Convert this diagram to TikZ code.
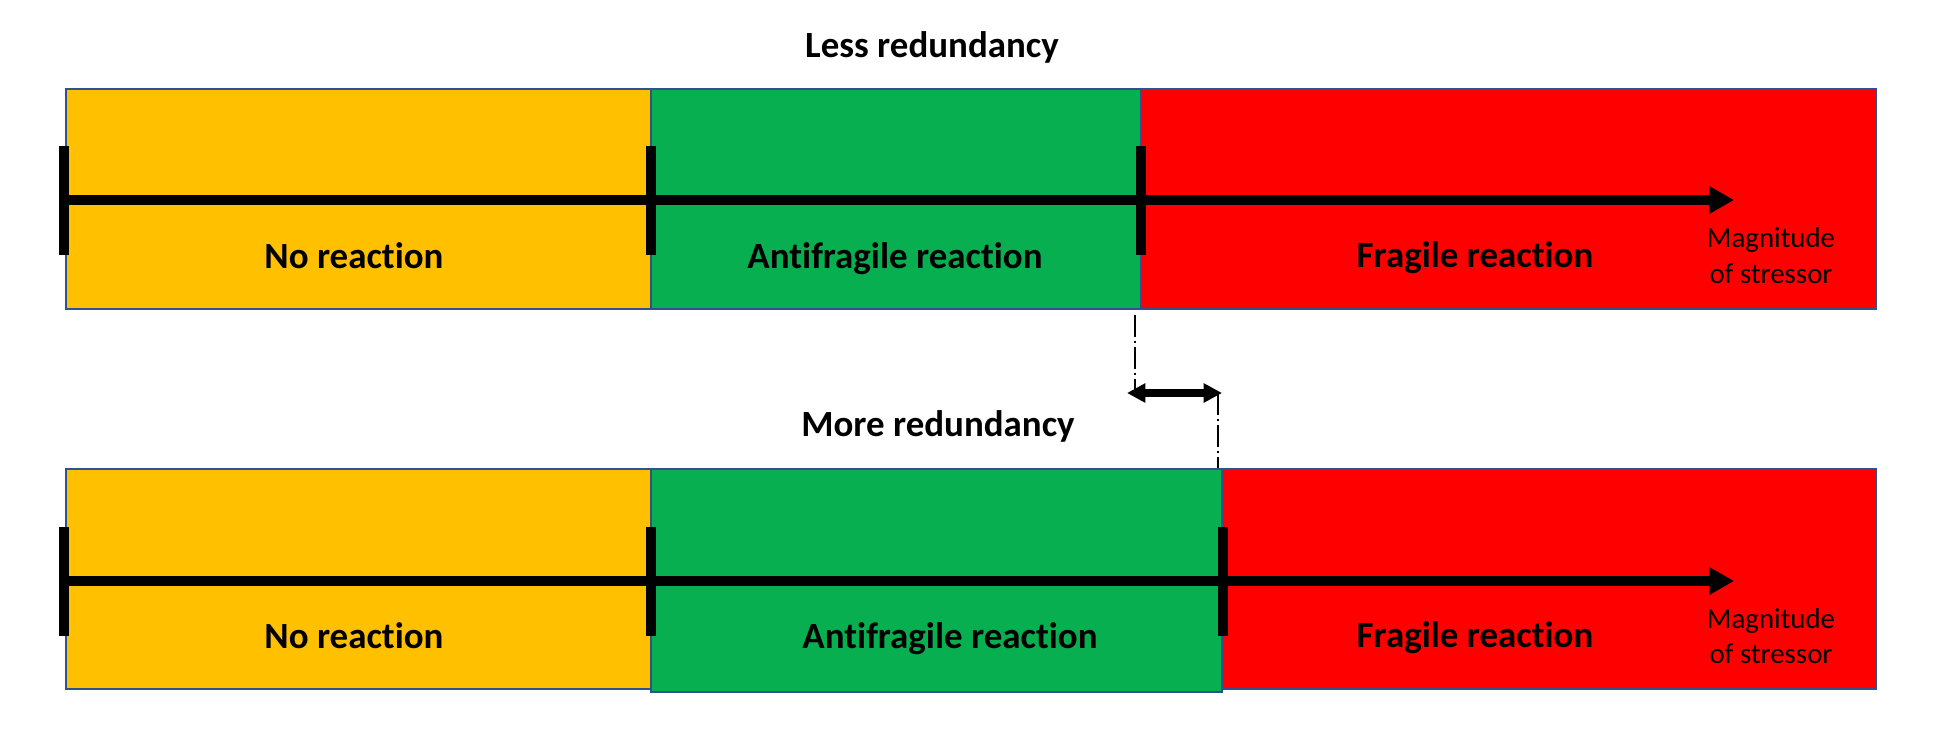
\documentclass[tikz,border=0pt]{standalone}
\usepackage{fontspec}
\setmainfont{Carlito}[Ligatures=NoCommon]
\usetikzlibrary{arrows.meta}
\definecolor{yel}{HTML}{FFC000}
\definecolor{grn}{HTML}{07AF50}
\definecolor{rd}{HTML}{FF0000}
\definecolor{edge}{HTML}{2F528F}
\begin{document}
\begin{tikzpicture}[x=0.01cm,y=-0.01cm,
  seg/.style={draw=edge, line width=0.45pt},
  axisline/.style={line width=2.6pt, -{Triangle[length=7pt,width=7.4pt]}},
  tickline/.style={line width=2.6pt},
  lbl/.style={font=\bfseries\fontsize{10.5}{12}\selectfont, anchor=base, inner sep=0pt},
  ttl/.style={font=\bfseries\fontsize{10.5}{12}\selectfont, anchor=base, inner sep=0pt},
  mag/.style={font=\fontsize{8.2}{10}\selectfont, anchor=base, inner sep=0pt},
  guide/.style={line width=0.45pt, dash pattern=on 6.3pt off 1.1pt on 0.6pt off 1.1pt},
  shiftarrow/.style={line width=2pt, {Triangle[length=5.2pt,width=5.2pt]}-{Triangle[length=5.2pt,width=5.2pt]}}
]
\useasboundingbox (0,0) rectangle (1940,748);

% ---------- top bar (less redundancy) ----------
\filldraw[seg, fill=yel] (66,89) rectangle (651,309);
\filldraw[seg, fill=grn] (651,89) rectangle (1141,309);
\filldraw[seg, fill=rd]  (1141,89) rectangle (1876,309);

\coordinate (TA0) at (64,200);
\coordinate (TAend) at (1734,200);
\draw[axisline] (TA0) -- (TAend);
\coordinate (T1a) at (64,146);   \coordinate (T1b) at (64,255);
\coordinate (T2a) at (651,146);  \coordinate (T2b) at (651,255);
\coordinate (T3a) at (1141,146); \coordinate (T3b) at (1141,255);
\draw[tickline] (T1a) -- (T1b);
\draw[tickline] (T2a) -- (T2b);
\draw[tickline] (T3a) -- (T3b);

\node[ttl] (less) at (932,57) {Less redundancy};
\node[lbl] (tno) at (354,268) {No reaction};
\node[lbl] (tanti) at (895,268) {Antifragile reaction};
\node[lbl] (tfrag) at (1475,267) {Fragile reaction};
\node[mag] (tmag1) at (1771,247) {Magnitude};
\node[mag] (tmag2) at (1771,283) {of stressor};

% ---------- bottom bar (more redundancy) ----------
\filldraw[seg, fill=yel] (66,469) rectangle (651,689);
\filldraw[seg, fill=grn] (651,469) rectangle (1222,692);
\filldraw[seg, fill=rd]  (1222,469) rectangle (1876,689);

\coordinate (BA0) at (64,581);
\coordinate (BAend) at (1734,581);
\draw[axisline] (BA0) -- (BAend);
\coordinate (B1a) at (64,527);   \coordinate (B1b) at (64,636);
\coordinate (B2a) at (651,527);  \coordinate (B2b) at (651,636);
\coordinate (B3a) at (1223,527); \coordinate (B3b) at (1223,636);
\draw[tickline] (B1a) -- (B1b);
\draw[tickline] (B2a) -- (B2b);
\draw[tickline] (B3a) -- (B3b);

\node[ttl] (more) at (938,436) {More redundancy};
\node[lbl] (bno) at (354,648) {No reaction};
\node[lbl] (banti) at (950,648) {Antifragile reaction};
\node[lbl] (bfrag) at (1475,647) {Fragile reaction};
\node[mag] (bmag1) at (1771,628) {Magnitude};
\node[mag] (bmag2) at (1771,663) {of stressor};

% ---------- shift indicator ----------
\coordinate (G1a) at (1135,315);
\coordinate (G1b) at (1135,393);
\coordinate (G2a) at (1218,393);
\coordinate (G2b) at (1218,468);
\coordinate (SL) at (1127,393);
\coordinate (SR) at (1222,393);
\draw[guide] (G1a) -- (G1b);
\draw[guide] (G2a) -- (G2b);
\draw[shiftarrow] (SL) -- (SR);
\end{tikzpicture}
\end{document}
